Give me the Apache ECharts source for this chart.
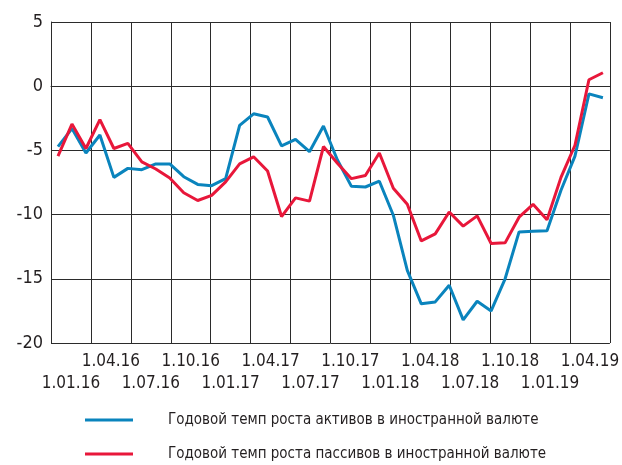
<!DOCTYPE html>
<html>
<head>
<meta charset="utf-8">
<script src="https://cdn.jsdelivr.net/npm/echarts@6/dist/echarts.min.js"></script>
<style>
  html, body { margin: 0; padding: 0; background: #ffffff; }
  #chart { width: 622px; height: 465px; }
</style>
</head>
<body>
<div id="chart"></div>
<script>
// quarter labels under the grid (one cell per quarter)
const quarterLabels = [
  '1.01.16', '1.04.16', '1.07.16', '1.10.16',
  '1.01.17', '1.04.17', '1.07.17', '1.10.17',
  '1.01.18', '1.04.18', '1.07.18', '1.10.18',
  '1.01.19', '1.04.19'
];

// monthly points, Jan 2016 - Apr 2019
const months = [];
for (let y = 2016; y <= 2019; y++) {
  for (let m = 1; m <= 12; m++) {
    if (y === 2019 && m > 4) break;
    months.push(y + '-' + (m < 10 ? '0' + m : m));
  }
}

const assetsGrowth = [
  -4.7, -3.3, -5.2, -3.8, -7.1, -6.4, -6.5, -6.05, -6.05, -7.05,
  -7.65, -7.75, -7.2, -3.05, -2.15, -2.4, -4.65, -4.15, -5.1, -3.1,
  -5.75, -7.8, -7.85, -7.4, -10.05, -14.35, -16.95, -16.8, -15.5, -18.2,
  -16.75, -17.5, -15.0, -11.35, -11.3, -11.25, -8.1, -5.45, -0.6, -0.9
];

const liabilitiesGrowth = [
  -5.45, -2.95, -4.85, -2.6, -4.85, -4.45, -5.9, -6.45, -7.15, -8.3,
  -8.9, -8.5, -7.45, -6.05, -5.5, -6.6, -10.15, -8.7, -8.95, -4.7,
  -6.0, -7.2, -6.95, -5.2, -7.95, -9.2, -12.05, -11.5, -9.8, -10.9,
  -10.1, -12.25, -12.2, -10.2, -9.2, -10.4, -7.1, -4.6, 0.5, 1.05
];

const seriesNames = [
  'Годовой темп роста активов в иностранной валюте',
  'Годовой темп роста пассивов в иностранной валюте'
];

const FONT = '"DejaVu Sans Condensed", "Liberation Sans Narrow", sans-serif';
const GRID_COLOR = '#2b2b2b';
const TEXT_COLOR = '#231f20';

const chart = echarts.init(document.getElementById('chart'), null, { renderer: 'canvas' });

chart.setOption({
  animation: false,
  backgroundColor: '#ffffff',
  grid: { left: 51, right: 9, top: 22, bottom: 122, containLabel: false },
  legend: {
    orient: 'vertical',
    left: 85,
    top: 409,
    padding: 0,
    itemWidth: 48,
    itemHeight: 3,
    itemGap: 12,
    icon: 'rect',
    textStyle: {
      fontFamily: FONT,
      fontSize: 15,
      lineHeight: 22,
      color: TEXT_COLOR,
      padding: [0, 0, 0, 30]
    },
    data: seriesNames
  },
  xAxis: [
    {
      type: 'category',
      data: quarterLabels,
      boundaryGap: true,
      axisLine: { show: true, lineStyle: { color: GRID_COLOR, width: 1 } },
      axisTick: { show: false },
      splitLine: { show: true, interval: 0, lineStyle: { color: GRID_COLOR, width: 1 } },
      axisLabel: {
        interval: 0,
        margin: 8,
        fontFamily: FONT,
        fontSize: 17,
        lineHeight: 22,
        color: TEXT_COLOR,
        formatter: (val, idx) => (idx % 2 === 0 ? '\n' + val : val)
      }
    },
    {
      type: 'category',
      data: months,
      boundaryGap: true,
      show: false
    }
  ],
  yAxis: {
    type: 'value',
    min: -20,
    max: 5,
    interval: 5,
    axisLine: { show: true, lineStyle: { color: GRID_COLOR, width: 1 } },
    axisTick: { show: false },
    splitLine: { show: true, lineStyle: { color: GRID_COLOR, width: 1 } },
    axisLabel: {
      margin: 8,
      fontFamily: FONT,
      fontSize: 18,
      color: TEXT_COLOR
    }
  },
  series: [
    {
      name: seriesNames[0],
      type: 'line',
      xAxisIndex: 1,
      data: assetsGrowth,
      symbol: 'none',
      lineStyle: { color: '#0a84bd', width: 3 },
      itemStyle: { color: '#0a84bd' }
    },
    {
      name: seriesNames[1],
      type: 'line',
      xAxisIndex: 1,
      data: liabilitiesGrowth,
      symbol: 'none',
      lineStyle: { color: '#e8173a', width: 3 },
      itemStyle: { color: '#e8173a' }
    }
  ]
});
</script>
</body>
</html>
